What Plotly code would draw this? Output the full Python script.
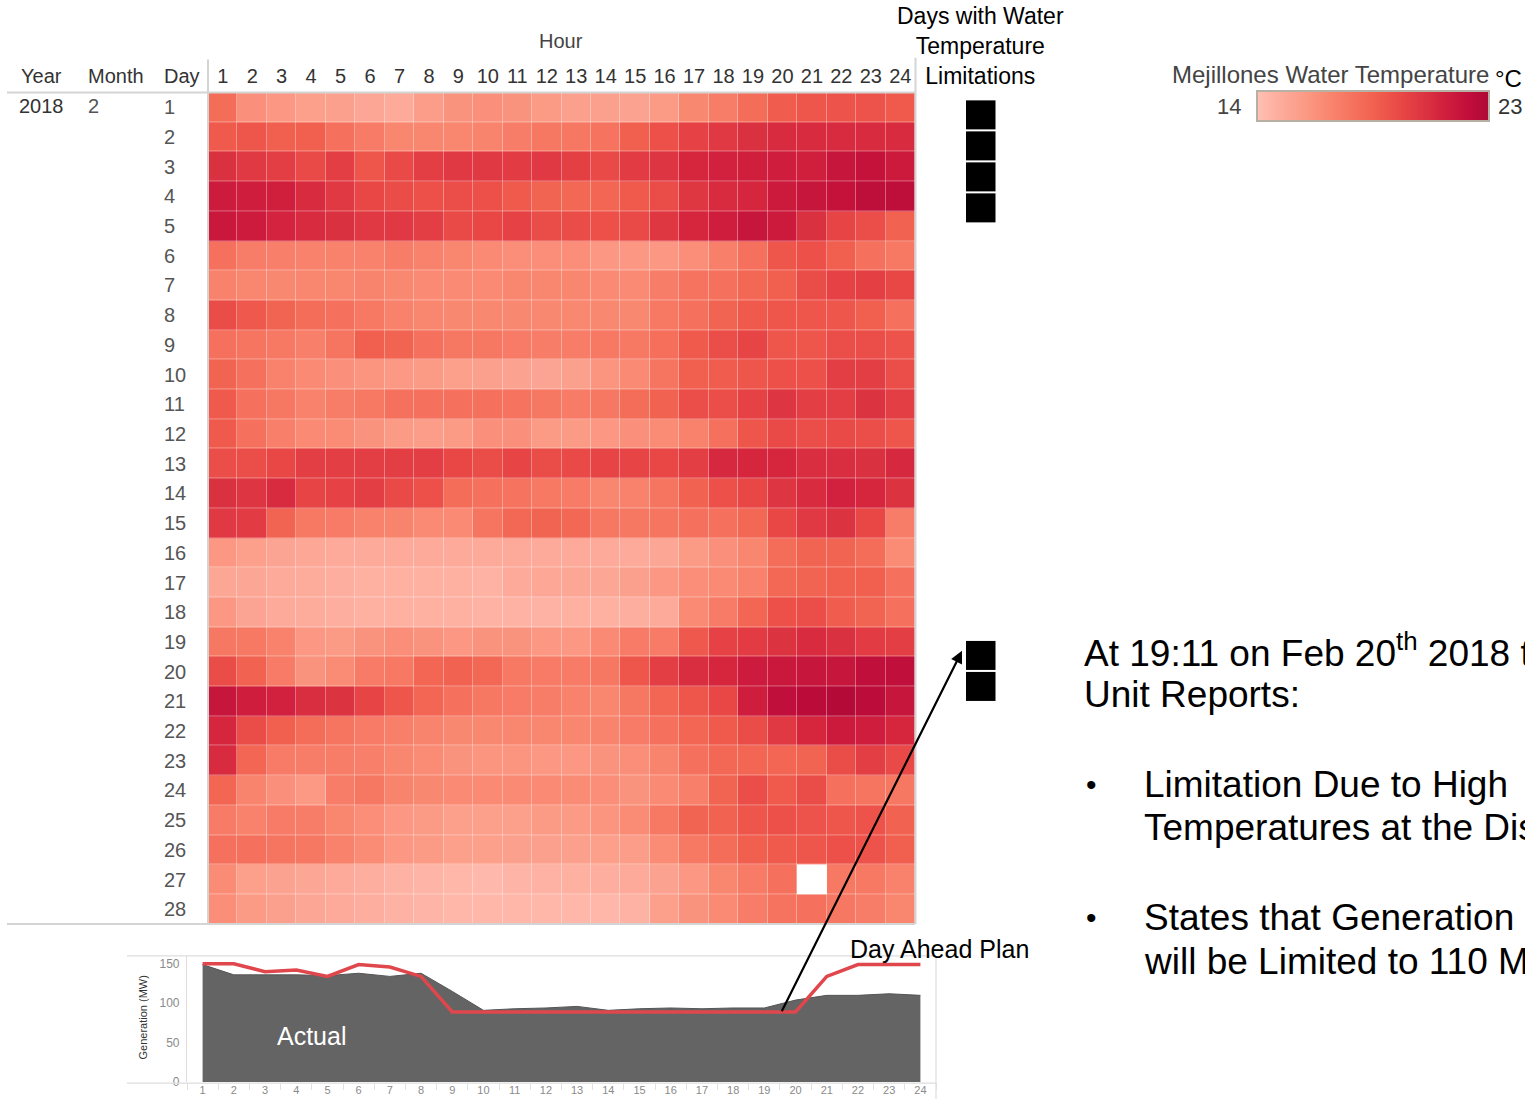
import plotly.graph_objects as go

W, H = 1525, 1106


def px(x):
    return x / W


def py(y):
    return 1 - y / H


hours = list(range(1, 25))
days = list(range(1, 29))

# Mejillones water temperature (deg C), one row per day of Feb 2018, hours 1..24
water_temp_c = [
    [18.0, 16.3, 16.0, 15.6, 15.5, 15.2, 15.0, 15.7, 16.2, 16.3, 16.2, 15.8, 15.5, 15.5, 15.4, 15.8, 16.7, 17.2, 18.0, 18.7, 19.0, 19.1, 19.1, 18.8],
    [18.8, 19.0, 18.6, 18.6, 17.8, 17.3, 16.8, 16.8, 16.8, 16.9, 17.2, 17.5, 17.5, 17.7, 18.6, 19.2, 19.8, 20.2, 20.6, 20.8, 20.8, 20.8, 20.8, 20.8],
    [20.6, 20.2, 20.0, 19.5, 20.0, 19.0, 19.5, 20.0, 20.2, 20.2, 20.1, 20.2, 19.9, 19.5, 20.1, 20.4, 21.0, 21.2, 21.3, 21.4, 21.3, 21.8, 22.0, 21.6],
    [21.5, 21.4, 21.3, 20.8, 20.2, 19.6, 19.4, 19.2, 19.3, 19.2, 18.8, 18.4, 18.2, 18.3, 18.8, 19.4, 20.3, 20.8, 21.0, 21.6, 21.8, 22.0, 22.3, 22.3],
    [21.7, 21.5, 21.1, 20.8, 20.6, 20.2, 20.2, 20.0, 19.5, 19.6, 19.8, 19.4, 19.4, 19.2, 19.5, 20.3, 21.0, 21.4, 21.8, 21.6, 20.6, 19.7, 19.3, 18.5],
    [17.8, 17.2, 17.1, 17.0, 17.0, 17.0, 17.2, 17.0, 16.8, 16.6, 16.4, 16.4, 16.4, 16.0, 16.0, 16.0, 16.4, 17.1, 17.8, 19.0, 19.2, 18.6, 17.8, 17.4],
    [17.0, 16.8, 16.7, 16.8, 16.8, 16.9, 16.7, 16.6, 16.6, 16.6, 16.8, 16.8, 16.8, 16.6, 16.6, 17.2, 17.7, 17.8, 18.2, 18.6, 19.4, 19.8, 19.9, 19.6],
    [19.4, 18.9, 18.4, 18.0, 17.8, 17.4, 17.0, 16.8, 16.7, 16.7, 16.7, 16.7, 16.7, 16.7, 16.7, 17.4, 17.8, 18.4, 18.8, 19.0, 19.0, 19.0, 18.6, 17.8],
    [17.8, 17.6, 17.4, 17.1, 17.6, 18.6, 18.4, 17.8, 17.5, 17.5, 17.3, 17.2, 17.2, 17.4, 17.4, 17.9, 18.8, 19.3, 19.7, 19.0, 19.0, 19.3, 19.3, 19.1],
    [18.4, 17.8, 17.0, 16.6, 16.3, 16.1, 15.9, 15.8, 15.6, 15.5, 15.4, 15.3, 15.5, 16.1, 16.6, 17.6, 18.6, 18.7, 19.0, 19.2, 19.2, 20.0, 20.0, 19.3],
    [18.8, 17.8, 17.5, 17.0, 17.2, 17.4, 17.8, 17.8, 17.8, 17.8, 17.7, 17.5, 17.3, 17.5, 18.0, 18.5, 19.3, 19.3, 19.8, 20.4, 20.0, 20.0, 20.5, 20.0],
    [18.8, 17.8, 17.1, 16.6, 16.5, 16.2, 15.8, 15.7, 15.8, 16.3, 16.3, 15.8, 15.8, 16.0, 16.3, 16.5, 17.0, 17.8, 19.0, 19.5, 19.3, 19.5, 19.3, 19.0],
    [19.3, 19.3, 19.6, 20.0, 20.0, 20.0, 20.0, 20.0, 19.6, 19.4, 19.7, 19.4, 19.5, 19.7, 19.7, 19.6, 20.0, 20.9, 21.0, 21.0, 20.7, 20.7, 20.6, 20.9],
    [20.6, 20.4, 20.8, 19.7, 19.8, 20.0, 19.5, 19.2, 18.0, 17.8, 17.7, 17.4, 17.3, 16.8, 17.0, 17.6, 18.5, 19.2, 19.6, 20.4, 20.8, 21.2, 21.0, 20.5],
    [20.2, 20.1, 18.4, 17.4, 17.3, 17.0, 16.9, 16.6, 16.6, 17.6, 18.2, 18.4, 18.2, 17.5, 17.5, 17.6, 17.8, 17.8, 18.2, 19.6, 20.2, 20.5, 19.6, 17.2],
    [16.0, 15.6, 15.3, 15.1, 15.0, 15.0, 15.0, 15.0, 15.0, 15.0, 15.0, 15.0, 15.0, 15.0, 15.0, 15.2, 15.8, 16.3, 16.8, 18.0, 18.4, 18.4, 18.0, 16.5],
    [15.2, 15.2, 15.0, 14.9, 14.8, 14.7, 14.7, 14.7, 14.7, 14.6, 15.0, 15.1, 15.2, 15.2, 15.5, 16.0, 16.4, 16.6, 17.0, 18.2, 18.4, 18.6, 18.6, 17.8],
    [16.0, 15.3, 15.0, 14.9, 14.8, 14.7, 14.7, 14.7, 14.7, 14.6, 14.6, 14.6, 14.7, 14.7, 14.8, 15.0, 16.6, 17.3, 18.3, 19.2, 19.3, 18.7, 18.4, 17.8],
    [17.5, 17.4, 17.0, 16.0, 15.8, 16.2, 16.4, 16.2, 16.0, 16.2, 16.2, 16.0, 16.0, 16.6, 17.3, 17.3, 18.9, 19.8, 20.1, 20.5, 20.8, 20.6, 20.1, 20.0],
    [19.4, 18.5, 17.3, 16.2, 16.5, 17.3, 17.4, 18.3, 18.5, 18.2, 17.4, 17.3, 17.3, 17.5, 19.0, 20.0, 20.7, 21.0, 21.5, 21.7, 21.8, 21.8, 22.2, 22.2],
    [21.8, 21.4, 21.2, 20.7, 20.5, 19.7, 19.0, 18.3, 17.8, 17.5, 17.3, 17.2, 17.0, 16.8, 17.5, 18.3, 19.0, 19.6, 21.4, 22.2, 22.5, 22.8, 22.4, 21.8],
    [21.0, 19.4, 18.6, 18.0, 17.6, 17.3, 17.1, 16.9, 16.7, 16.7, 16.8, 16.8, 16.8, 16.9, 17.3, 17.8, 18.3, 18.8, 19.4, 20.2, 21.0, 21.6, 21.4, 21.0],
    [20.8, 18.3, 17.3, 17.2, 17.2, 17.1, 16.8, 16.5, 16.2, 16.1, 16.1, 16.0, 16.0, 16.2, 16.4, 16.9, 17.8, 18.2, 18.3, 18.3, 18.4, 19.4, 20.0, 19.5],
    [18.3, 16.9, 16.3, 15.9, 17.2, 17.5, 16.9, 16.7, 16.6, 16.6, 16.6, 16.6, 16.5, 16.4, 16.2, 16.6, 17.1, 18.4, 19.3, 18.8, 19.4, 17.8, 17.6, 17.5],
    [17.3, 17.0, 17.3, 17.2, 16.8, 16.4, 16.0, 15.8, 15.6, 15.6, 15.6, 15.8, 15.8, 16.1, 16.5, 17.4, 18.4, 18.5, 19.0, 19.2, 19.1, 19.0, 19.1, 18.5],
    [17.8, 17.8, 17.6, 17.5, 17.0, 16.5, 16.0, 15.8, 15.6, 15.6, 15.5, 15.5, 15.5, 15.6, 15.7, 16.5, 17.4, 18.0, 18.6, 18.8, 19.0, 19.2, 19.1, 18.6],
    [16.5, 15.6, 15.4, 15.2, 15.0, 14.8, 14.6, 14.5, 14.4, 14.3, 14.5, 14.6, 14.7, 14.8, 15.0, 15.4, 16.0, 16.8, 17.3, 17.8, None, 17.4, 17.4, 17.0],
    [16.4, 15.8, 15.5, 15.2, 15.0, 14.8, 14.6, 14.5, 14.4, 14.4, 14.4, 14.4, 14.4, 14.4, 14.6, 15.6, 16.2, 16.6, 17.2, 17.7, 17.8, 17.5, 17.2, 16.8],
]

limited_days = [1, 2, 3, 4, 20, 21]

actual_mw = [149, 136, 136, 136, 135, 138, 134, 138, 115, 91, 93, 94, 96, 91, 93, 94, 93, 94, 94, 104, 110, 110, 112, 110]
plan_mw = [150, 150, 140, 142, 134, 149, 146, 134, 89, 89, 89, 89, 89, 89, 89, 89, 89, 89, 89, 89, 134, 149, 149, 149]

temp_min, temp_max = 14, 23

reds = ['#ffc1b4', '#feb5a7', '#fdab9b', '#fca290', '#fb9984', '#fa8f79', '#f9856e',
        '#f77b66', '#f5715d', '#f36754', '#f05c4d', '#ec5049', '#e74545', '#e13a43',
        '#da3040', '#d3233e', '#cb1a3c', '#c3113b', '#ba0b39', '#ae0a37']
colorscale = [[i / (len(reds) - 1), c] for i, c in enumerate(reds)]

FONT = "Liberation Sans, Arial, sans-serif"

fig = go.Figure()

# Main heatmap
fig.add_trace(go.Heatmap(
    x=hours, y=days, z=water_temp_c,
    zmin=temp_min, zmax=temp_max,
    colorscale=colorscale,
    xgap=0.35, ygap=0.35,
    xaxis='x', yaxis='y',
    colorbar=dict(
        orientation='h',
        x=px(1373), xanchor='center',
        y=py(108), yanchor='middle',
        len=232, lenmode='pixels',
        thickness=30,
        xpad=0, ypad=0,
        showticklabels=False, ticks='',
        outlinecolor='#b7b0a4', outlinewidth=2,
    ),
    hoverongaps=False,
))

# Limitation markers column (two panels: early and late February)
early = [d for d in days if d <= 14]
late = [d for d in days if d > 14]
fig.add_trace(go.Heatmap(
    x=[1], y=early, z=[[1] if d in limited_days else [None] for d in early],
    colorscale=[[0, '#000000'], [1, '#000000']],
    showscale=False, ygap=2,
    xaxis='x3', yaxis='y3',
    hoverongaps=False,
))
fig.add_trace(go.Heatmap(
    x=[1], y=late, z=[[1] if d in limited_days else [None] for d in late],
    colorscale=[[0, '#000000'], [1, '#000000']],
    showscale=False, ygap=2,
    xaxis='x4', yaxis='y4',
    hoverongaps=False,
))

# Bottom generation chart
fig.add_trace(go.Scatter(
    x=hours, y=actual_mw, mode='lines', fill='tozeroy',
    line=dict(color='#555555', width=1), fillcolor='#646464',
    xaxis='x2', yaxis='y2', showlegend=False,
))
fig.add_trace(go.Scatter(
    x=hours, y=plan_mw, mode='lines',
    line=dict(color='#e0474c', width=3.5),
    xaxis='x2', yaxis='y2', showlegend=False,
))

annotations = []


def ann(text, x, y, size, color='#333333', xanchor='center', yanchor='middle', **kw):
    annotations.append(dict(text=text, x=x, y=y, xref='paper', yref='paper',
                            showarrow=False, xanchor=xanchor, yanchor=yanchor,
                            font=dict(family=FONT, size=size, color=color), **kw))


ann('Hour', px(561), py(41), 20, '#444444')
ann('Year', px(41), py(76), 20, '#333333')
ann('Month', px(116), py(76), 20, '#333333')
ann('Day', px(182), py(76), 20, '#333333')
ann('2018', px(41), py(107), 20, '#333333')
ann('2', px(93), py(107), 20, '#555555')
ann('Days with Water<br>Temperature<br>Limitations', px(980), py(46), 23, '#000000')
ann('Mejillones Water Temperature', px(1491), py(75), 24, '#444444', xanchor='right')
ann('°C', px(1493), py(79), 24, '#000000', xanchor='left')
ann('14', px(1243), py(107), 22, '#444444', xanchor='right')
ann('23', px(1496), py(107), 22, '#333333', xanchor='left')

ann('At 19:11 on Feb 20<sup>th</sup> 2018 the', px(1082), py(655), 37, '#000000', xanchor='left')
ann('Unit Reports:', px(1082), py(699), 37, '#000000', xanchor='left')
ann('•', px(1091), py(789), 30, '#000000')
ann('Limitation Due to High', px(1142), py(789), 37, '#000000', xanchor='left')
ann('Temperatures at the Discharge', px(1142), py(833), 37, '#000000', xanchor='left')
ann('•', px(1091), py(923), 30, '#000000')
ann('States that Generation', px(1142), py(923), 37, '#000000', xanchor='left')
ann('will be Limited to 110 MW', px(1142), py(968), 37, '#000000', xanchor='left')

ann('Actual', px(311), py(1043), 25, '#ffffff')
ann('Day Ahead Plan', px(939), py(955), 25, '#000000')
ann('Generation (MW)', px(143), py(1024), 11, '#333333', textangle=-90)

# arrow from the plan line to the limitation markers
annotations.append(dict(
    x=px(962), y=py(655), xref='paper', yref='paper',
    ax=781 - 962, ay=1017 - 655, axref='pixel', ayref='pixel',
    showarrow=True, arrowhead=2, arrowsize=1.1, arrowwidth=2.2, arrowcolor='#000000',
    text='', standoff=0,
))

shapes = []
LINE = dict(color='#d4d4d4', width=2)
shapes.append(dict(type='line', xref='paper', yref='paper', x0=px(7), x1=px(915), y0=py(93), y1=py(93), line=LINE))
shapes.append(dict(type='line', xref='paper', yref='paper', x0=px(7), x1=px(915), y0=py(930), y1=py(930), line=LINE))
shapes.append(dict(type='line', xref='paper', yref='paper', x0=px(208), x1=px(208), y0=py(60), y1=py(930), line=LINE))
shapes.append(dict(type='line', xref='paper', yref='paper', x0=px(915.5), x1=px(915.5), y0=py(58), y1=py(930), line=LINE))
BOX = dict(color='#dddddd', width=1.2)
shapes.append(dict(type='line', xref='paper', yref='paper', x0=px(127), x1=px(936), y0=py(962), y1=py(962), line=BOX))
shapes.append(dict(type='line', xref='paper', yref='paper', x0=px(127), x1=px(936), y0=py(1090), y1=py(1090), line=BOX))
shapes.append(dict(type='line', xref='paper', yref='paper', x0=px(936), x1=px(936), y0=py(962), y1=0, line=BOX))

fig.update_layout(
    width=W, height=H, autosize=False,
    margin=dict(l=0, r=0, t=0, b=0, pad=0),
    paper_bgcolor='white', plot_bgcolor='white',
    showlegend=False,
    font=dict(family=FONT),
    xaxis=dict(domain=[px(208), px(915)], range=[0.5, 24.5], side='top',
               tickmode='array', tickvals=hours, ticks='', showgrid=False,
               zeroline=False, showline=False, ticklabelstandoff=4,
               tickfont=dict(size=20, color='#333333'), fixedrange=True),
    yaxis=dict(domain=[py(930), py(93)], range=[28.5, 0.5],
               anchor='free', position=px(160), side='left',
               ticklabelposition='inside',
               tickmode='array', tickvals=days, ticks='', showgrid=False,
               zeroline=False, showline=False, ticklabelstandoff=0,
               tickfont=dict(size=20, color='#555555'), fixedrange=True),
    xaxis3=dict(domain=[px(966), px(995.5)], range=[0.5, 1.5], visible=False,
                anchor='y3', fixedrange=True),
    yaxis3=dict(domain=[py(100 + 14 * 31.25), py(100)], range=[14.5, 0.5], visible=False,
                anchor='x3', fixedrange=True),
    xaxis4=dict(domain=[px(966), px(995.5)], range=[0.5, 1.5], visible=False,
                anchor='y4', fixedrange=True),
    yaxis4=dict(domain=[py(659.5 + 8.5 * 31), py(659.5 - 5.5 * 31)], range=[28.5, 14.5],
                visible=False, anchor='x4', fixedrange=True),
    xaxis2=dict(domain=[px(187), px(936)], range=[0.5, 24.5], anchor='y2',
                tickmode='array', tickvals=hours, ticks='', showgrid=False,
                zeroline=False, showline=False,
                tickfont=dict(size=11, color='#8a8a8a'),
                minor=dict(tickmode='linear', tick0=0.5, dtick=1, ticks='outside',
                           ticklen=7, tickcolor='#e2e2e2', showgrid=False),
                fixedrange=True),
    yaxis2=dict(domain=[py(1089), py(962)], range=[0, 160], anchor='x2',
                tickmode='array', tickvals=[0, 50, 100, 150], ticks='',
                showgrid=False, zeroline=False, showline=True, linecolor='#dddddd',
                linewidth=1.2, ticklabelstandoff=4,
                tickfont=dict(size=12, color='#8a8a8a'), fixedrange=True),
    annotations=annotations,
    shapes=shapes,
)

fig.write_html("out.html", config={'displayModeBar': False})
